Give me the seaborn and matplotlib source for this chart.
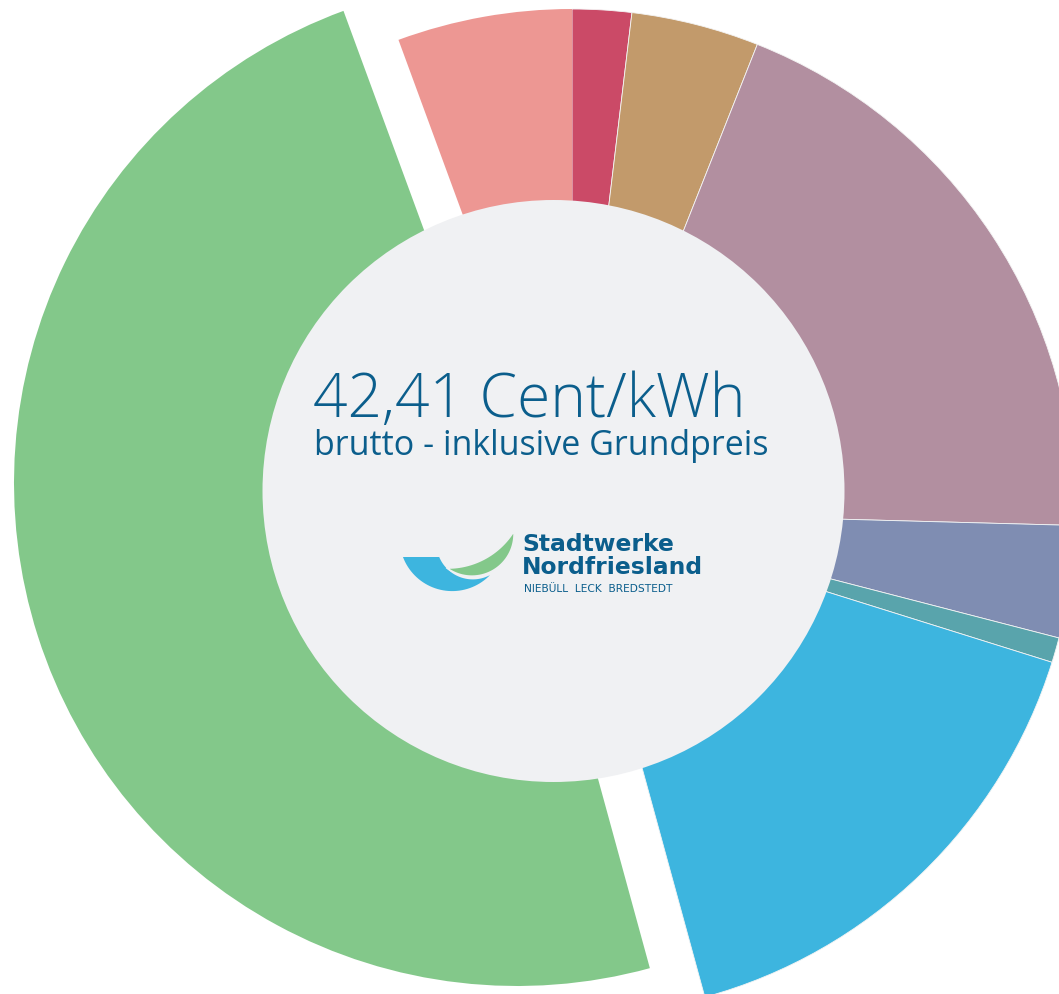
import matplotlib
matplotlib.use("Agg")
import matplotlib.pyplot as plt
from matplotlib.patches import Circle, Polygon
import numpy as np
import seaborn as sns

# Anteile am Strompreis in %, im Uhrzeigersinn ab 12 Uhr
shares = [1.9, 4.1, 19.4, 3.6, 0.8, 15.9, 48.6, 5.6]
colors = ["#CB4A67", "#C29A6B", "#B28FA0", "#7F8DB2",
          "#59A4AC", "#3DB5DF", "#83C88A", "#ED9793"]
price_text = "42,41 Cent/kWh"
sub_text = "brutto - inklusive Grundpreis"
logo_lines = ["Stadtwerke", "Nordfriesland"]
logo_towns = "NIEBÜLL  LECK  BREDSTEDT"

text_blue = "#0B5E8C"

sns.set_style("white")
fig = plt.figure(figsize=(10.59, 9.95), dpi=100)
ax = fig.add_axes([0, 0, 1, 1])

# y axis is flipped below, so counterclock=True runs clockwise on screen
wedges, _ = ax.pie(shares, colors=colors, startangle=-90, counterclock=True,
                   radius=503, center=(572, 513),
                   wedgeprops=dict(edgecolor="#F4F4F4", linewidth=0.6))

# the big green slice is pulled out of the ring
wedges[6].set_center((572 - 55, 513 - 29))
wedges[6].set_edgecolor("none")
wedges[7].set_edgecolor("none")

ax.set_xlim(0, 1059)
ax.set_ylim(995, 0)
ax.set_aspect("equal")
ax.axis("off")

# centre disc
ax.add_patch(Circle((553.5, 492), 291, fc="#F0F1F3", ec="none", zorder=3))

ax.text(313, 417, price_text, fontsize=43.5, color=text_blue, family="Open Sans",
        fontweight="light", ha="left", va="baseline", zorder=4)
ax.text(314, 455, sub_text, fontsize=24.5, color=text_blue, family="Open Sans",
        fontweight="normal", ha="left", va="baseline", zorder=4)


# logo swoosh
def arc(cx, cy, r, a0, a1, n=40):
    t = np.radians(np.linspace(a0, a1, n))
    return np.column_stack([cx + r * np.cos(t), cy + r * np.sin(t)])


blue_pts = np.vstack([[[403, 558], [439, 558]],
                      arc(472.8, 544, 36.4, 157.5, 61.7),
                      arc(452.2, 539.5, 52.6, 43.8, 159)])
green_pts = np.vstack([arc(447.7, 491.1, 77.9, 90.5, 31.7),
                       arc(471.9, 535, 42.2, -4.1, 126.2)])
ax.add_patch(Polygon(blue_pts, closed=True, fc="#3DB5DF", ec="none", zorder=4))
ax.add_patch(Polygon(green_pts, closed=True, fc="#83C88A", ec="#F0F1F3",
                     lw=1.2, zorder=5))

ax.text(522, 551, logo_lines[0], fontsize=16.9, color=text_blue, family="DejaVu Sans",
        fontweight="bold", ha="left", va="baseline", zorder=4)
ax.text(522, 574, logo_lines[1], fontsize=16.8, color=text_blue, family="DejaVu Sans",
        fontweight="bold", ha="left", va="baseline", zorder=4)
ax.text(524, 592, logo_towns, fontsize=7.7, color=text_blue, family="DejaVu Sans",
        ha="left", va="baseline", zorder=4)

fig.savefig("out.png", dpi=100, facecolor="white")
